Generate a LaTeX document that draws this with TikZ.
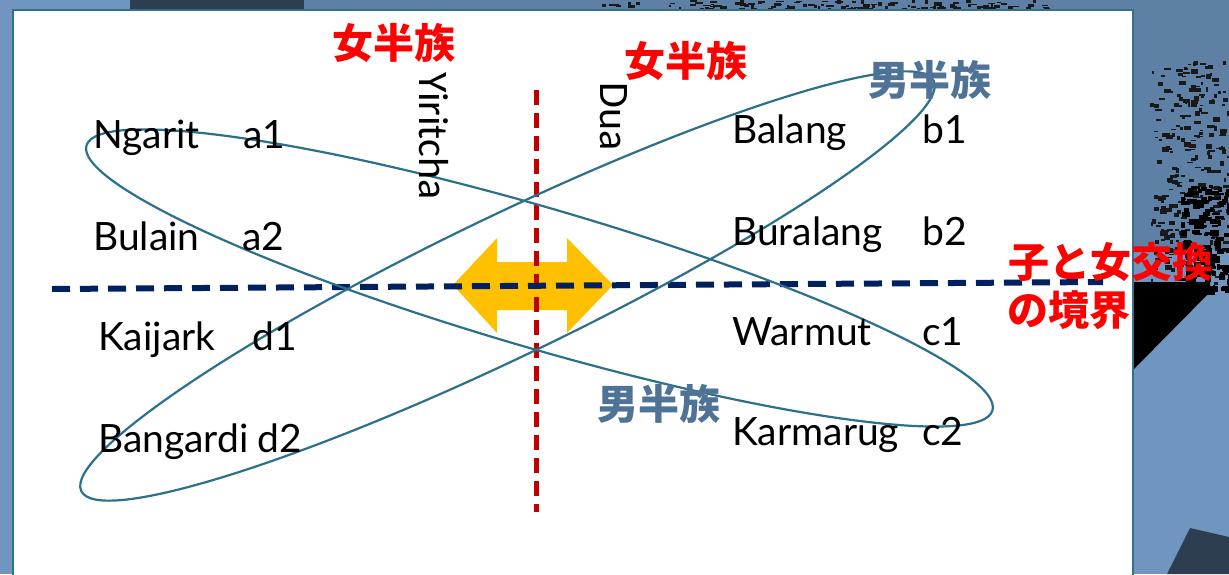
\documentclass[tikz,border=0pt]{standalone}
\usepackage{fontspec}
\setmainfont{Lato}
\newfontfamily\cjkfont{Noto Sans CJK JP}
\newfontfamily\carlitofont{Carlito}
\definecolor{ellc}{RGB}{44,112,140}
\definecolor{navyc}{RGB}{0,32,96}
\definecolor{redl}{RGB}{192,0,0}
\definecolor{goldc}{RGB}{255,192,0}
\definecolor{maleblue}{RGB}{78,115,150}
\definecolor{bgblue}{RGB}{112,150,192}
\definecolor{bgmid}{RGB}{95,128,165}
\definecolor{bgdark}{RGB}{45,62,80}
\definecolor{framec}{RGB}{50,112,140}
\begin{document}
\begin{tikzpicture}[x=1pt,y=-1pt,
  clan/.style={anchor=base west, inner sep=0pt, font=\fontsize{39}{47}\selectfont},
  vclan/.style={anchor=base west, inner sep=0pt, rotate=-90, font=\carlitofont\fontsize{42}{50}\selectfont},
  female/.style={inner sep=0pt, text=red, font=\cjkfont\bfseries\fontsize{41}{48}\selectfont},
  male/.style={female, text=maleblue},
  moiety/.style={draw=ellc, line width=2.2pt},
  exchline/.style={draw=navyc, line width=6pt, dash pattern=on 18pt off 10pt},
  splitline/.style={draw=redl, line width=5pt, dash pattern=on 15pt off 8pt},
  swaparrow/.style={fill=goldc, draw=none}]
\useasboundingbox (0,0) rectangle (1229,574);
% background
\fill[bgblue] (0,0) rectangle (1229,574);
\fill[bgmid] (304,0) rectangle (1229,10);
\fill[bgmid] (1133,0) rectangle (1229,250);
\fill[bgdark] (130,0) rectangle (304,10);
\fill[black] (1133,282) -- (1210,282) -- (1210,292) -- (1133,370) -- cycle;
\fill[bgdark] (1167,574) -- (1190,528) -- (1229,537) -- (1229,574) -- cycle;
\pgfmathsetseed{7}
\foreach \i in {1,...,260} {
  \pgfmathsetmacro\xx{1150+78*rnd}
  \pgfmathsetmacro\yy{60+225*rnd}
  \pgfmathsetmacro\ww{2+6*rnd}
  \pgfmathsetmacro\hh{1+4*rnd}
  \fill[black!90] (\xx,\yy) rectangle ++(\ww,\hh);
}
\foreach \i in {1,...,140} {
  \pgfmathsetmacro\xx{1180+48*rnd}
  \pgfmathsetmacro\yy{180+110*rnd}
  \pgfmathsetmacro\ww{3+7*rnd}
  \pgfmathsetmacro\hh{2+5*rnd}
  \fill[black] (\xx,\yy) rectangle ++(\ww,\hh);
}
\foreach \i in {1,...,130} {
  \pgfmathsetmacro\xx{600+460*rnd}
  \pgfmathsetmacro\yy{9*rnd}
  \pgfmathsetmacro\ww{2+6*rnd}
  \pgfmathsetmacro\hh{1+3*rnd}
  \fill[black!90] (\xx,\yy) rectangle ++(\ww,\hh);
}
% white panel
\fill[white, draw=framec, line width=2pt] (13,10) rectangle (1133,590);
% exchange arrow
\coordinate (al) at (453,285);
\coordinate (ar) at (613,285);
\fill[swaparrow] (al) -- (497,238) -- (497,262) -- (567,262) -- (567,238) -- (ar)
  -- (567,333) -- (567,310) -- (497,310) -- (497,333) -- cycle;
% boundary lines
\coordinate (vt) at (536,90);
\coordinate (vb) at (536,512);
\draw[splitline] (vt) -- (vb);
\coordinate (hl) at (52,289);
\coordinate (hr) at (1103,282);
\draw[exchline] (hl) -- (hr);
% moieties
\coordinate (e1) at (539.5,278);
\coordinate (e2) at (507.5,286);
\draw[moiety, rotate around={-16.3:(e1)}] (e1) ellipse [x radius=472pt, y radius=70pt];
\draw[moiety, rotate around={25.7:(e2)}] (e2) ellipse [x radius=473pt, y radius=70pt];
% clan names
\node[clan] (ngarit) at (93,148) {Ngarit};
\node[clan] (a1) at (243,148) {a1};
\node[clan] (bulain) at (93,250) {Bulain};
\node[clan] (a2) at (242,250) {a2};
\node[clan] (kaijark) at (98,350) {Kaijark};
\node[clan] (d1) at (252,350) {d1};
\node[clan] (bangardi) at (98,452) {Bangardi};
\node[clan] (d2) at (257,452) {d2};
\node[clan] (balang) at (732,143) {Balang};
\node[clan] (b1) at (922,143) {b1};
\node[clan] (buralang) at (732,245) {Buralang};
\node[clan] (b2) at (922,245) {b2};
\node[clan] (warmut) at (732,345) {Warmut};
\node[clan] (c1) at (922,345) {c1};
\node[clan] (karmarug) at (732,445) {Karmarug};
\node[clan] (c2) at (922,445) {c2};
\node[vclan] (yiritcha) at (419,72) {Yiritcha};
\node[vclan] (dua) at (600,82) {Dua};
% moiety labels
\node[female] (f1) at (394,43) {女半族};
\node[female] (f2) at (686,61) {女半族};
\node[male] (m1) at (930,80) {男半族};
\node[male] (m2) at (659,404) {男半族};
\node[female] (bd1) at (1111,262) {子と女交換};
\node[female] (bd2) at (1069,310) {の境界};
\end{tikzpicture}
\end{document}
